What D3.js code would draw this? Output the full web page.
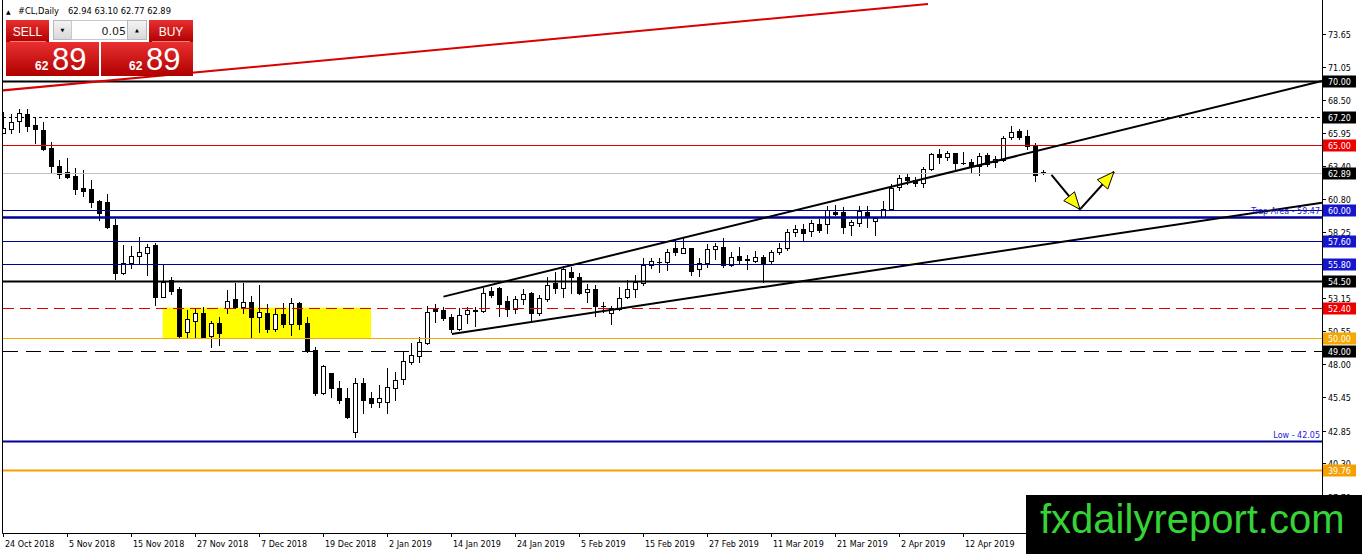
<!DOCTYPE html>
<html><head><meta charset="utf-8">
<script src="https://cdn.jsdelivr.net/npm/d3@7"></script>
<style>html,body{margin:0;padding:0;background:#fff;overflow:hidden}svg{display:block}</style>
</head><body>
<svg id="c" width="1362" height="554"></svg>
<script>
// ---------- DATA ----------
const opens  = [65.98,66.25,66.90,67.44,66.60,66.20,64.80,63.40,62.96,62.62,61.71,61.63,60.70,60.60,58.81,55.11,55.89,56.43,56.66,57.26,
53.25,54.54,53.84,50.53,51.38,52.00,50.22,51.23,52.34,53.04,52.47,52.80,51.64,51.96,50.74,51.90,51.12,52.78,51.18,49.10,
45.79,47.30,46.13,45.40,42.76,46.57,45.40,45.09,45.04,46.13,46.83,48.20,48.64,49.62,52.27,52.21,51.64,50.71,51.90,52.17,
52.10,53.69,53.90,52.91,52.27,53.04,53.50,52.00,53.07,54.28,53.90,55.19,54.80,53.64,53.82,52.56,52.00,52.27,53.25,53.87,
54.28,55.73,55.94,55.92,57.05,56.66,57.00,55.37,55.84,56.92,57.08,55.71,56.40,56.17,56.04,56.35,56.02,56.74,57.05,58.25,
58.50,58.37,58.89,58.87,59.80,59.85,58.81,59.00,59.85,59.15,59.41,60.06,61.74,62.52,62.31,62.10,63.16,64.33,64.12,64.38,
63.62,63.68,63.40,64.25,63.68,63.86,65.67,66.12,65.73,65.03,62.94];
const highs  = [67.62,67.44,67.80,67.80,67.18,66.84,65.24,63.86,64.00,63.22,63.09,62.31,60.75,61.20,59.26,57.26,57.18,57.90,57.30,57.40,
55.79,54.80,54.02,52.21,52.30,52.42,51.38,51.69,53.77,54.33,54.33,53.30,54.15,52.68,52.27,52.73,53.12,52.86,51.69,49.36,
47.95,47.35,46.70,46.13,46.90,46.90,45.86,46.38,47.69,47.42,49.03,49.67,50.14,52.52,52.65,52.44,51.90,52.34,52.42,52.47,
53.90,53.96,53.96,53.30,53.30,53.82,53.63,53.40,54.80,55.19,55.63,55.58,55.06,54.20,54.15,52.86,52.52,53.96,54.54,54.93,
56.22,56.22,56.22,56.93,57.70,57.78,57.00,56.22,57.34,57.40,57.78,56.69,57.08,56.48,56.79,56.48,56.90,57.41,58.48,58.82,
58.87,59.17,59.27,60.30,60.37,60.19,59.20,60.27,60.27,59.46,60.70,61.98,62.70,62.88,62.57,63.30,64.43,64.70,64.60,64.43,
64.50,63.96,64.43,64.40,64.20,65.73,66.50,66.30,66.22,65.20,63.10];
const lows   = [65.96,65.94,66.06,66.10,65.20,64.64,62.96,62.49,62.44,61.20,61.07,60.24,59.20,58.56,54.62,55.00,55.45,55.76,54.93,52.60,
53.20,53.45,50.01,50.01,50.00,50.00,49.30,49.49,51.96,52.34,51.96,50.01,50.48,50.48,50.61,50.87,50.27,50.74,48.93,45.60,
45.70,45.44,45.02,43.85,42.37,44.24,44.70,44.65,44.24,45.22,46.46,47.99,48.20,49.57,51.25,51.40,50.53,50.66,51.18,51.00,
52.08,53.20,51.75,51.75,51.96,52.68,51.38,51.80,52.93,53.50,53.25,53.56,53.45,52.86,51.75,52.08,51.12,52.21,53.12,53.25,
54.15,55.50,55.19,55.32,56.45,56.61,54.93,54.85,55.58,56.15,55.58,55.60,55.89,55.37,55.97,54.41,55.89,56.60,56.87,57.99,
57.60,57.99,58.30,58.22,59.60,58.17,58.04,58.70,58.68,58.04,59.40,59.98,61.50,62.00,61.84,61.74,63.09,63.60,63.90,63.00,
63.55,62.88,62.70,63.40,63.30,63.81,65.47,65.50,64.75,62.23,62.77];
const closes = [66.33,66.84,67.49,66.53,66.25,64.72,63.42,62.75,62.57,61.61,61.48,60.62,59.72,58.64,55.11,55.84,56.40,56.72,57.13,53.20,
54.41,53.71,50.22,51.49,51.96,50.14,51.23,50.45,52.93,52.47,52.80,51.64,52.03,50.74,51.90,51.10,52.73,51.10,49.05,45.73,
47.90,46.13,45.22,43.92,46.52,45.22,45.01,45.40,46.21,46.78,48.25,48.72,49.75,52.08,52.10,51.57,50.71,51.82,52.21,52.21,
53.57,53.38,52.68,52.27,53.04,53.45,51.96,53.12,54.15,53.90,55.37,54.75,53.50,53.82,52.52,52.50,52.39,53.17,53.82,54.41,
55.68,55.99,55.97,56.74,56.70,57.00,55.27,55.89,56.92,57.18,55.71,56.30,56.09,56.13,56.30,55.89,56.74,57.05,58.29,58.50,
58.22,59.00,58.43,60.00,59.67,58.68,59.07,59.93,59.46,59.33,60.03,61.70,62.44,62.31,62.10,63.14,64.33,64.12,64.38,63.60,
63.66,63.42,64.20,63.55,63.92,65.55,66.06,65.67,64.95,62.70,62.89];

const xTickIndex  = [0,8,16,24,32,40,48,56,64,72,80,88,96,104,112,120];
const xTickLabels = ["24 Oct 2018","5 Nov 2018","15 Nov 2018","27 Nov 2018","7 Dec 2018","19 Dec 2018","2 Jan 2019","14 Jan 2019",
                     "24 Jan 2019","5 Feb 2019","15 Feb 2019","27 Feb 2019","11 Mar 2019","21 Mar 2019","2 Apr 2019","12 Apr 2019"];
const priceTicks  = [73.65,71.05,68.50,65.95,63.40,60.80,58.25,55.70,53.15,50.55,48.00,45.45,42.85,40.30,37.70];

const levelPrices = [70.00,67.20,65.00,62.89,60.00,59.47,57.60,55.80,54.50,52.40,50.00,49.00,42.05,39.76];
const levelTexts  = ["","","","","","Trap Area - 59.47","","","","","","","Low - 42.05",""];

const redTrend     = [[-0.44,69.25],[115.56,75.99]];
const channelUpper = [[55.0,53.25],[164.8,70.00]];
const channelLower = [[56.05,50.35],[164.8,60.55]];
const zoneIdx      = [19.9,45.94];
const zonePrices   = [50.00,52.40];
const arrowDown    = [[131.0,62.70],[134.56,60.03]];
const arrowUp      = [[134.56,60.03],[138.81,62.95]];

const symbolHeader = "#CL,Daily";
const ohlcHeader   = "62.94 63.10 62.77 62.89";
const lotSize      = "0.05";
const bidBig = "62", bidSmall = "89";

// ---------- SCALES ----------
const svg = d3.select("#c");
const x = d3.scaleLinear().domain([0,130]).range([3.5,1043.5]);
const y = d3.scaleLinear().domain([39.76,70]).range([470.3,81]);
const FONT = "'DejaVu Sans', sans-serif";

svg.append("rect").attr("width",1362).attr("height",554).attr("fill","#fff");
const defs = svg.append("defs");
defs.append("clipPath").attr("id","plot").append("rect").attr("x",3).attr("y",0).attr("width",1319).attr("height",533);
const grad = defs.append("linearGradient").attr("id","red").attr("x1",0).attr("y1",0).attr("x2",0).attr("y2",1);
grad.append("stop").attr("offset","0%").attr("stop-color","#e8302f");
grad.append("stop").attr("offset","100%").attr("stop-color","#b00000");
const grad2 = defs.append("linearGradient").attr("id","gray").attr("x1",0).attr("y1",0).attr("x2",0).attr("y2",1);
grad2.append("stop").attr("offset","0%").attr("stop-color","#f4f4f4");
grad2.append("stop").attr("offset","100%").attr("stop-color","#d8d8d8");

const plot = svg.append("g").attr("clip-path","url(#plot)");

// yellow zone
plot.append("rect")
  .attr("x",x(zoneIdx[0])).attr("width",x(zoneIdx[1])-x(zoneIdx[0]))
  .attr("y",y(zonePrices[1])).attr("height",y(zonePrices[0])-y(zonePrices[1]))
  .attr("fill","#ffff00");

// candles
const idx = d3.range(opens.length);
const cg = plot.append("g");
idx.forEach(i=>{
  const cx = x(i);
  const o=opens[i], c=closes[i];
  cg.append("line").attr("x1",cx).attr("x2",cx)
    .attr("y1",Math.round(y(highs[i]))).attr("y2",Math.round(y(lows[i]))+1)
    .attr("stroke","#000").attr("stroke-width",1);
  const top = Math.round(y(Math.max(o,c))), bot = Math.round(y(Math.min(o,c)));
  if (bot-top < 1) {
    cg.append("line").attr("x1",cx-2.5).attr("x2",cx+2.5).attr("y1",top+0.5).attr("y2",top+0.5)
      .attr("stroke","#000").attr("stroke-width",1);
  } else {
    cg.append("rect").attr("x",cx-2).attr("width",4).attr("y",top+0.5).attr("height",bot-top)
      .attr("fill", c>=o ? "#fff" : "#000").attr("stroke","#000").attr("stroke-width",1);
  }
});

// horizontal levels
const levelStyle = [
 {c:"#000",w:2,box:"#000"},
 {c:"#000",w:1,d:"3,3",box:"#000"},
 {c:"#e00000",w:1,box:"#ee0000"},
 {c:"#c0c0c0",w:1,box:"#000"},
 {c:"#00009c",w:1,box:"#1515d0"},
 {c:"#00009c",w:2.5},
 {c:"#00009c",w:1,box:"#1515d0"},
 {c:"#00009c",w:1,box:"#1515d0"},
 {c:"#000",w:2,box:"#000"},
 {c:"#e00000",w:1,d:"11,6",box:"#ee0000"},
 {c:"#f5a800",w:1,box:"#f5a800"},
 {c:"#000",w:1,d:"15,8",box:"#000"},
 {c:"#00009c",w:2},
 {c:"#f5a000",w:2,box:"#f5a000"}
];
const lvY = p => { const v = Math.round(y(p)); return v + 0.5; };
levelPrices.forEach((p,k)=>{
  const s = levelStyle[k];
  plot.append("line").attr("x1",3).attr("x2",1322).attr("y1",lvY(p)).attr("y2",lvY(p))
    .attr("stroke",s.c).attr("stroke-width",s.w).attr("stroke-dasharray",s.d||null);
});

// trend lines
const line = d3.line().x(d=>x(d[0])).y(d=>y(d[1]));
plot.append("path").attr("d",line(redTrend)).attr("stroke","#d80000").attr("stroke-width",2).attr("fill","none");
plot.append("path").attr("d",line(channelUpper)).attr("stroke","#000").attr("stroke-width",2).attr("fill","none");
plot.append("path").attr("d",line(channelLower)).attr("stroke","#000").attr("stroke-width",2).attr("fill","none");

// arrows
function arrow(a){
  const x1=x(a[0][0]), y1=y(a[0][1]), x2=x(a[1][0]), y2=y(a[1][1]);
  plot.append("line").attr("x1",x1).attr("y1",y1).attr("x2",x2).attr("y2",y2).attr("stroke","#000").attr("stroke-width",2);
  const ang=Math.atan2(y2-y1,x2-x1), L=17, W=7;
  const bx=x2-L*Math.cos(ang), by=y2-L*Math.sin(ang);
  const px=-Math.sin(ang), py=Math.cos(ang);
  plot.append("path").attr("d",`M${x2},${y2}L${bx+W*px},${by+W*py}L${bx-W*px},${by-W*py}Z`)
    .attr("fill","#ffff00").attr("stroke","#000").attr("stroke-width",1);
}
arrow(arrowDown); arrow(arrowUp);

// level texts
levelPrices.forEach((p,k)=>{
  if(!levelTexts[k]) return;
  plot.append("text").attr("x",1320).attr("y",Math.round(y(p))-3).attr("text-anchor","end")
    .attr("font-family",FONT).attr("font-size",8).attr("fill","#1a1ad0").text(levelTexts[k]);
});

// frame & axes
svg.append("line").attr("x1",2.5).attr("x2",2.5).attr("y1",0).attr("y2",533.5).attr("stroke","#000");
svg.append("line").attr("x1",1322.5).attr("x2",1322.5).attr("y1",0).attr("y2",533.5).attr("stroke","#000");
svg.append("line").attr("x1",2.5).attr("x2",1322.5).attr("y1",533.5).attr("y2",533.5).attr("stroke","#000");

// price ticks
priceTicks.forEach(p=>{
  const ty = Math.round(y(p))+0.5;
  svg.append("line").attr("x1",1322).attr("x2",1326).attr("y1",ty).attr("y2",ty).attr("stroke","#000");
  svg.append("text").attr("x",1328).attr("y",ty+1).attr("dominant-baseline","middle")
    .attr("font-family",FONT).attr("font-size",8).attr("fill","#000").text(p.toFixed(2));
});

// level boxes
levelPrices.forEach((p,k)=>{
  const s = levelStyle[k];
  if(!s.box) return;
  const ty = Math.round(y(p))+0.5;
  svg.append("rect").attr("x",1323).attr("y",ty-6).attr("width",33).attr("height",12).attr("fill",s.box);
  svg.append("text").attr("x",1328).attr("y",ty+0.5).attr("dominant-baseline","middle")
    .attr("font-family",FONT).attr("font-size",8).attr("fill","#fff").text(p.toFixed(2));
});

// x ticks
xTickIndex.forEach((i,k)=>{
  const tx = Math.round(x(i))-0.5;
  svg.append("line").attr("x1",tx).attr("x2",tx).attr("y1",533).attr("y2",537).attr("stroke","#000");
  svg.append("text").attr("x",tx+1.5).attr("y",544).attr("dominant-baseline","middle")
    .attr("font-family",FONT).attr("font-size",8).attr("fill","#000").text(xTickLabels[k]);
});

// header
svg.append("text").attr("x",6).attr("y",14).attr("font-family",FONT).attr("font-size",6).text("▲");
svg.append("text").attr("x",18).attr("y",14).attr("font-family",FONT).attr("font-size",8.3).text(symbolHeader);
svg.append("text").attr("x",68).attr("y",14).attr("font-family",FONT).attr("font-size",8.3).text(ohlcHeader);

// trade panel
const P = svg.append("g");
P.append("rect").attr("x",6).attr("y",20).attr("width",43).attr("height",22).attr("fill","url(#red)");
P.append("rect").attr("x",149).attr("y",20).attr("width",44).attr("height",22).attr("fill","url(#red)");
P.append("rect").attr("x",6).attr("y",42).attr("width",93).attr("height",34).attr("fill","url(#red)");
P.append("rect").attr("x",101).attr("y",42).attr("width",92).attr("height",34).attr("fill","url(#red)");
P.append("line").attr("x1",10).attr("x2",46).attr("y1",41.5).attr("y2",41.5).attr("stroke","#f08080").attr("stroke-width",1);
P.append("line").attr("x1",152).attr("x2",190).attr("y1",41.5).attr("y2",41.5).attr("stroke","#f08080").attr("stroke-width",1);
P.append("rect").attr("x",53.5).attr("y",20.5).attr("width",18).attr("height",19).attr("fill","url(#gray)").attr("stroke","#b8b8b8");
P.append("rect").attr("x",71.5).attr("y",20.5).attr("width",56).attr("height",19).attr("fill","#fff").attr("stroke","#c8c8c8");
P.append("rect").attr("x",127.5).attr("y",20.5).attr("width",19).attr("height",19).attr("fill","url(#gray)").attr("stroke","#b8b8b8");
P.append("text").attr("x",62.5).attr("y",32).attr("text-anchor","middle").attr("font-family",FONT).attr("font-size",5).text("▼");
P.append("text").attr("x",137).attr("y",32).attr("text-anchor","middle").attr("font-family",FONT).attr("font-size",5).text("▲");
P.append("text").attr("x",126).attr("y",35).attr("text-anchor","end").attr("font-family",FONT).attr("font-size",11).attr("fill","#222").text(lotSize);
P.append("text").attr("x",27.5).attr("y",35.5).attr("text-anchor","middle").attr("font-family","'Liberation Sans', sans-serif").attr("font-size",12).attr("fill","#fff").text("SELL");
P.append("text").attr("x",171).attr("y",35.5).attr("text-anchor","middle").attr("font-family","'Liberation Sans', sans-serif").attr("font-size",12).attr("fill","#fff").text("BUY");
[[35,52],[129,146]].forEach(([a,b])=>{
  P.append("text").attr("x",a).attr("y",70).attr("font-family","'Liberation Sans', sans-serif").attr("font-size",12).attr("font-weight","bold").attr("fill","#fff").text(bidBig);
  P.append("text").attr("x",b).attr("y",70).attr("font-family","'Liberation Sans', sans-serif").attr("font-size",31).attr("fill","#fff").text(bidSmall);
});

// watermark
svg.append("rect").attr("x",1026).attr("y",495).attr("width",336).attr("height",59).attr("fill","#000");
svg.append("text").attr("x",1040).attr("y",533).attr("font-family","'Liberation Sans', Arial, sans-serif")
  .attr("font-size",40).attr("fill","#36d336").text("fxdailyreport.com");
</script>
</body></html>
